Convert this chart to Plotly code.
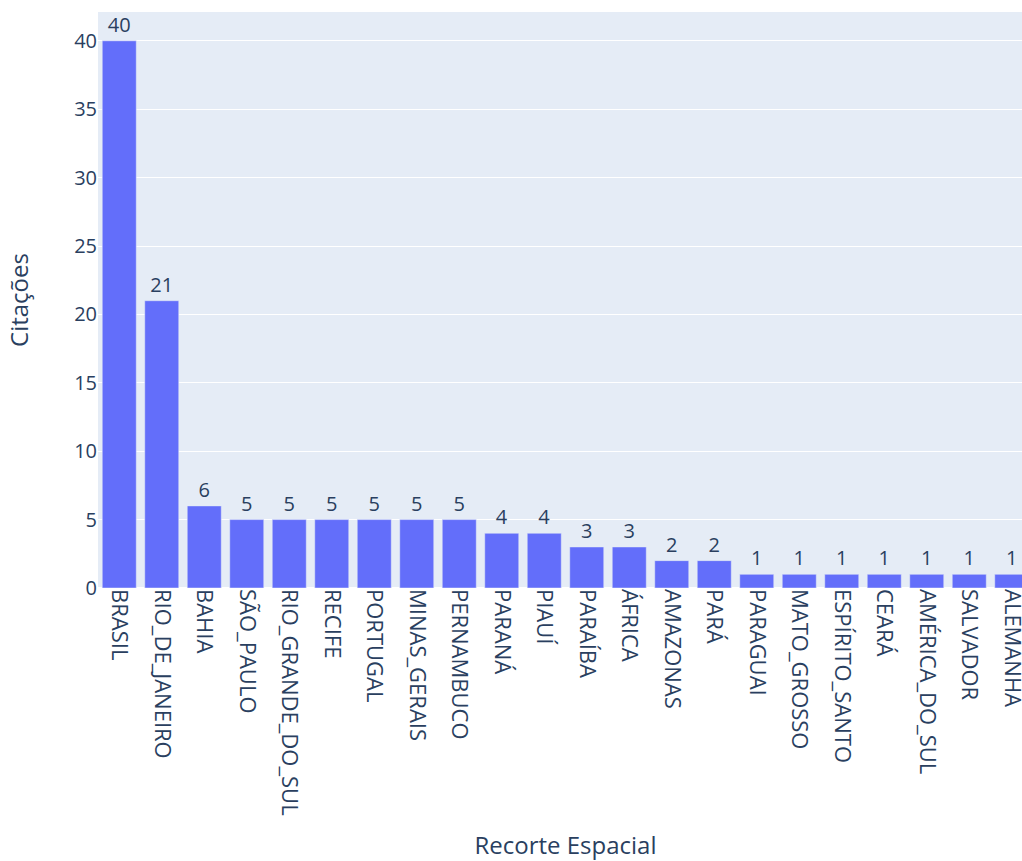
import plotly.graph_objects as go

categories = ["BRASIL", "RIO_DE_JANEIRO", "BAHIA", "SÃO_PAULO", "RIO_GRANDE_DO_SUL",
              "RECIFE", "PORTUGAL", "MINAS_GERAIS", "PERNAMBUCO", "PARANÁ", "PIAUÍ",
              "PARAÍBA", "ÁFRICA", "AMAZONAS", "PARÁ", "PARAGUAI", "MATO_GROSSO",
              "ESPÍRITO_SANTO", "CEARÁ", "AMÉRICA_DO_SUL", "SALVADOR", "ALEMANHA"]
citacoes = [40, 21, 6, 5, 5, 5, 5, 5, 5, 4, 4, 3, 3, 2, 2, 1, 1, 1, 1, 1, 1, 1]

fig = go.Figure(go.Bar(
    x=categories, y=citacoes, text=citacoes, textposition="outside",
    marker_color="#636efa", cliponaxis=False,
))
fig.update_layout(
    template="plotly",
    width=1113, height=861,
    margin=dict(l=98, r=80, t=12, b=273, autoexpand=False),
    font=dict(size=20),
    xaxis=dict(title=dict(text="Recorte Espacial", standoff=25), tickangle=90,
               tickfont=dict(size=22), automargin=False),
    yaxis=dict(title=dict(text="Citações", standoff=38), dtick=5, automargin=False),
    showlegend=False,
)
fig.write_html("out.html")
